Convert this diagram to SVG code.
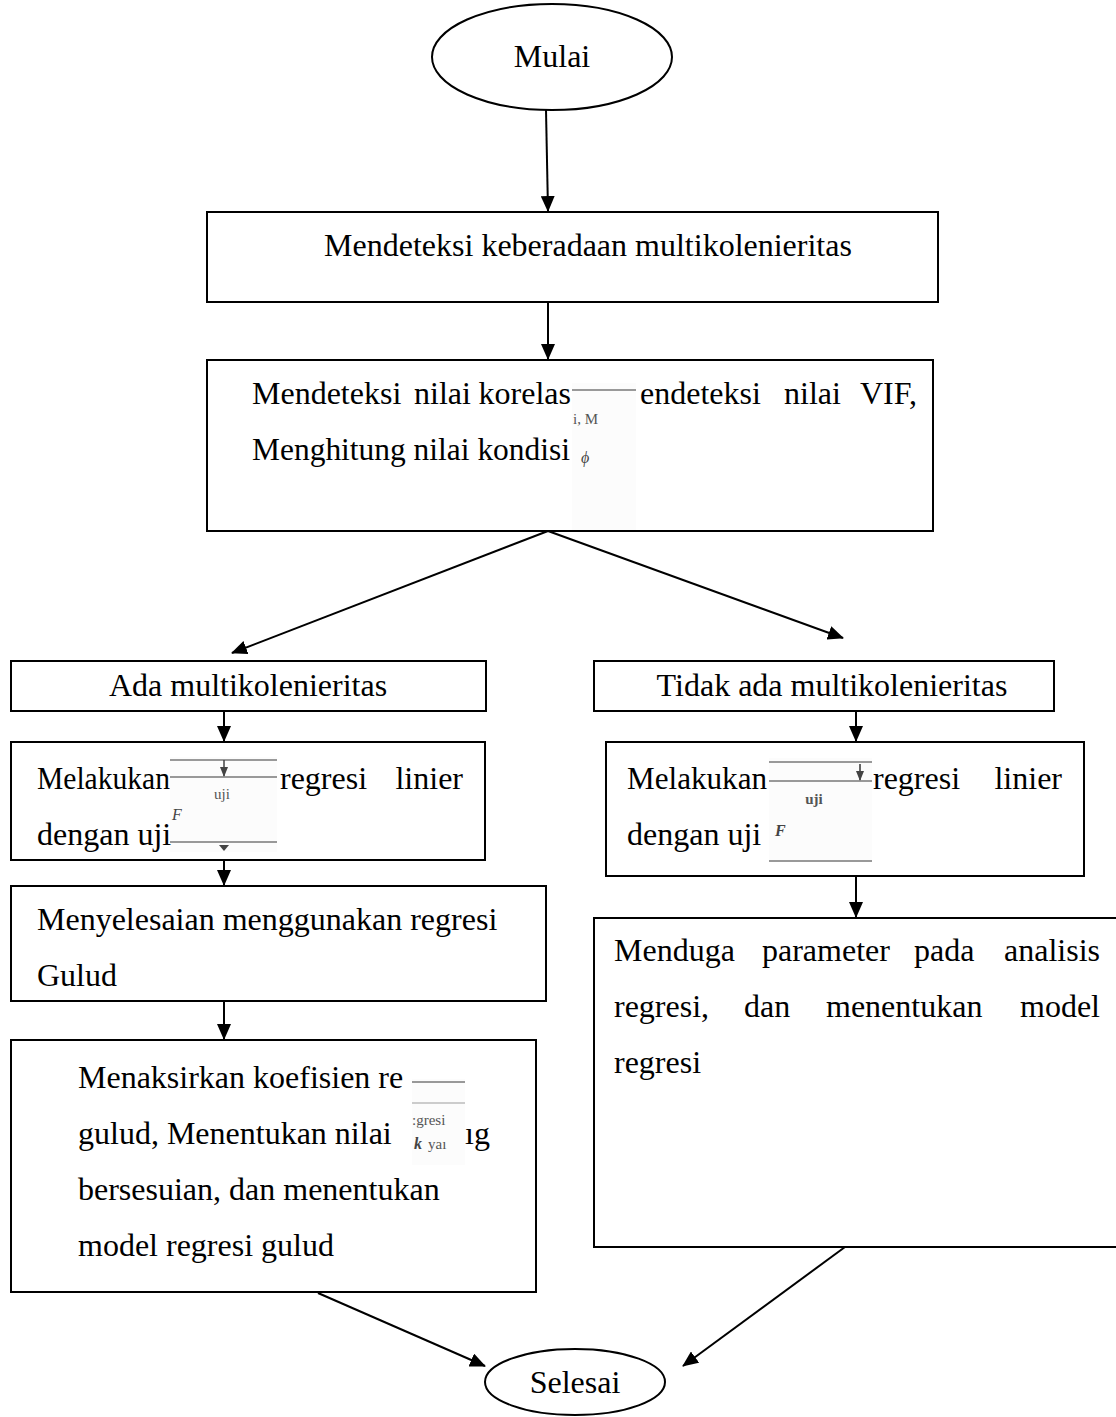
<svg xmlns="http://www.w3.org/2000/svg" width="1116" height="1417" viewBox="0 0 1116 1417">
<style>
.box{fill:#fff;stroke:#000;stroke-width:2}
.t{font-family:"Liberation Serif","Times New Roman",serif;font-size:32px;fill:#000}
.c{text-anchor:middle}
.r{text-anchor:end}
.e{stroke:#000;stroke-width:2;fill:none;marker-end:url(#ah)}
.pl{stroke:#999;stroke-width:2}
.sm{font-family:"Liberation Serif","Times New Roman",serif;font-size:15px;fill:#555}
.smi{font-family:"Liberation Serif","Times New Roman",serif;font-size:16px;font-style:italic;fill:#444}
</style>
<defs>
<marker id="ah" markerWidth="16" markerHeight="14" refX="15" refY="7" orient="auto" markerUnits="userSpaceOnUse">
<path d="M0,0 L16,7 L0,14 Z" fill="#000"/>
</marker>
<marker id="sa" markerWidth="10" markerHeight="8" refX="9" refY="4" orient="auto" markerUnits="userSpaceOnUse">
<path d="M0,0 L10,4 L0,8 Z" fill="#444"/>
</marker>
</defs>
<rect width="1116" height="1417" fill="#fff"/>

<g id="connectors">
<line class="e" x1="546" y1="110" x2="548" y2="211"/>
<line class="e" x1="548" y1="302" x2="548" y2="359"/>
<line class="e" x1="548" y1="531" x2="232" y2="653"/>
<line class="e" x1="548" y1="531" x2="843" y2="638"/>
<line class="e" x1="224" y1="711" x2="224" y2="741"/>
<line class="e" x1="856" y1="711" x2="856" y2="741"/>
<line class="e" x1="224" y1="860" x2="224" y2="885"/>
<line class="e" x1="856" y1="876" x2="856" y2="917"/>
<line class="e" x1="224" y1="1001" x2="224" y2="1039"/>
<line class="e" x1="318" y1="1293" x2="485" y2="1366"/>
<line class="e" x1="845" y1="1247" x2="683" y2="1366"/>
</g>

<g id="mulai">
<ellipse cx="552" cy="57" rx="120" ry="53" class="box"/>
<text x="552" y="67" class="t c">Mulai</text>
</g>

<g id="deteksi">
<rect x="207" y="212" width="731" height="90" class="box"/>
<text x="588" y="256" class="t c">Mendeteksi keberadaan multikolenieritas</text>
</g>

<g id="nilai">
<rect x="207" y="360" width="726" height="171" class="box"/>
<text x="252" y="404" class="t">Mendeteksi</text>
<text x="414" y="404" class="t">nilai</text>
<text x="571" y="404" class="t r">korelas</text>
<rect x="572" y="383" width="64" height="147" fill="#fcfcfc"/>
<line x1="572" y1="390" x2="636" y2="390" class="pl"/>
<text x="573" y="424" class="sm" fill="#444">i,  M</text>
<text x="581" y="463" class="smi">ϕ</text>
<text x="640" y="404" class="t">endeteksi</text>
<text x="784" y="404" class="t">nilai</text>
<text x="917" y="404" class="t r">VIF,</text>
<text x="252" y="460" class="t" textLength="318" lengthAdjust="spacingAndGlyphs">Menghitung nilai kondisi</text>
</g>

<g id="ada">
<rect x="11" y="661" width="475" height="50" class="box"/>
<text x="248" y="696" class="t c">Ada multikolenieritas</text>
</g>

<g id="tidak">
<rect x="594" y="661" width="460" height="50" class="box"/>
<text x="832" y="696" class="t c">Tidak ada multikolenieritas</text>
</g>

<g id="uji-kiri">
<rect x="11" y="742" width="474" height="118" class="box"/>
<text x="37" y="789" class="t" textLength="133" lengthAdjust="spacingAndGlyphs">Melakukan</text>
<rect x="170" y="757" width="107" height="95" fill="#fcfcfc"/>
<line x1="170" y1="760" x2="277" y2="760" class="pl"/>
<line x1="170" y1="777" x2="277" y2="777" class="pl"/>
<line x1="224" y1="760" x2="224" y2="776" stroke="#444" stroke-width="1.5" marker-end="url(#sa)"/>
<text x="222" y="799" class="sm c">uji</text>
<text x="172" y="820" class="smi" font-size="13">F</text>
<line x1="170" y1="842" x2="277" y2="842" class="pl"/>
<path d="M219,845 L229,845 L224,851 Z" fill="#444"/>
<text x="280" y="789" class="t">regresi</text>
<text x="463" y="789" class="t r">linier</text>
<text x="37" y="845" class="t">dengan uji</text>
</g>

<g id="uji-kanan">
<rect x="606" y="742" width="478" height="134" class="box"/>
<text x="627" y="789" class="t" textLength="140" lengthAdjust="spacingAndGlyphs">Melakukan</text>
<rect x="769" y="758" width="103" height="104" fill="#fcfcfc"/>
<line x1="769" y1="762" x2="872" y2="762" class="pl"/>
<line x1="769" y1="781" x2="872" y2="781" class="pl"/>
<line x1="860" y1="764" x2="860" y2="780" stroke="#333" stroke-width="1.5" marker-end="url(#sa)"/>
<text x="814" y="804" class="sm c" font-weight="bold">uji</text>
<text x="775" y="836" class="smi" font-size="14" font-weight="bold">F</text>
<line x1="769" y1="861" x2="872" y2="861" class="pl"/>
<text x="873" y="789" class="t">regresi</text>
<text x="1062" y="789" class="t r">linier</text>
<text x="627" y="845" class="t">dengan uji</text>
</g>

<g id="gulud">
<rect x="11" y="886" width="535" height="115" class="box"/>
<text x="37" y="930" class="t">Menyelesaian menggunakan regresi</text>
<text x="37" y="986" class="t">Gulud</text>
</g>

<g id="menduga">
<rect x="594" y="918" width="530" height="329" class="box"/>
<text x="614" y="961" class="t">Menduga</text>
<text x="762" y="961" class="t">parameter</text>
<text x="914" y="961" class="t">pada</text>
<text x="1100" y="961" class="t r">analisis</text>
<text x="614" y="1017" class="t">regresi,</text>
<text x="744" y="1017" class="t">dan</text>
<text x="826" y="1017" class="t">menentukan</text>
<text x="1100" y="1017" class="t r">model</text>
<text x="614" y="1073" class="t">regresi</text>
</g>

<g id="menaksir">
<rect x="11" y="1040" width="525" height="252" class="box"/>
<text x="78" y="1088" class="t">Menaksirkan koefisien re</text>
<rect x="412" y="1079" width="53" height="86" fill="#fcfcfc"/>
<line x1="412" y1="1082" x2="465" y2="1082" class="pl"/>
<line x1="412" y1="1103" x2="465" y2="1103" stroke="#ccc" stroke-width="2"/>
<text x="412" y="1125" class="sm" font-size="17">:gresi</text>
<text x="414" y="1149" class="smi" font-size="17" font-weight="bold">k</text>
<text x="428" y="1149" class="sm" font-size="17">yaı</text>
<text x="78" y="1144" class="t">gulud, Menentukan nilai</text>
<text x="465" y="1144" class="t">ıg</text>
<text x="78" y="1200" class="t">bersesuian, dan menentukan</text>
<text x="78" y="1256" class="t">model regresi gulud</text>
</g>

<g id="selesai">
<ellipse cx="575" cy="1382" rx="90" ry="33" class="box"/>
<text x="575" y="1393" class="t c">Selesai</text>
</g>
</svg>
